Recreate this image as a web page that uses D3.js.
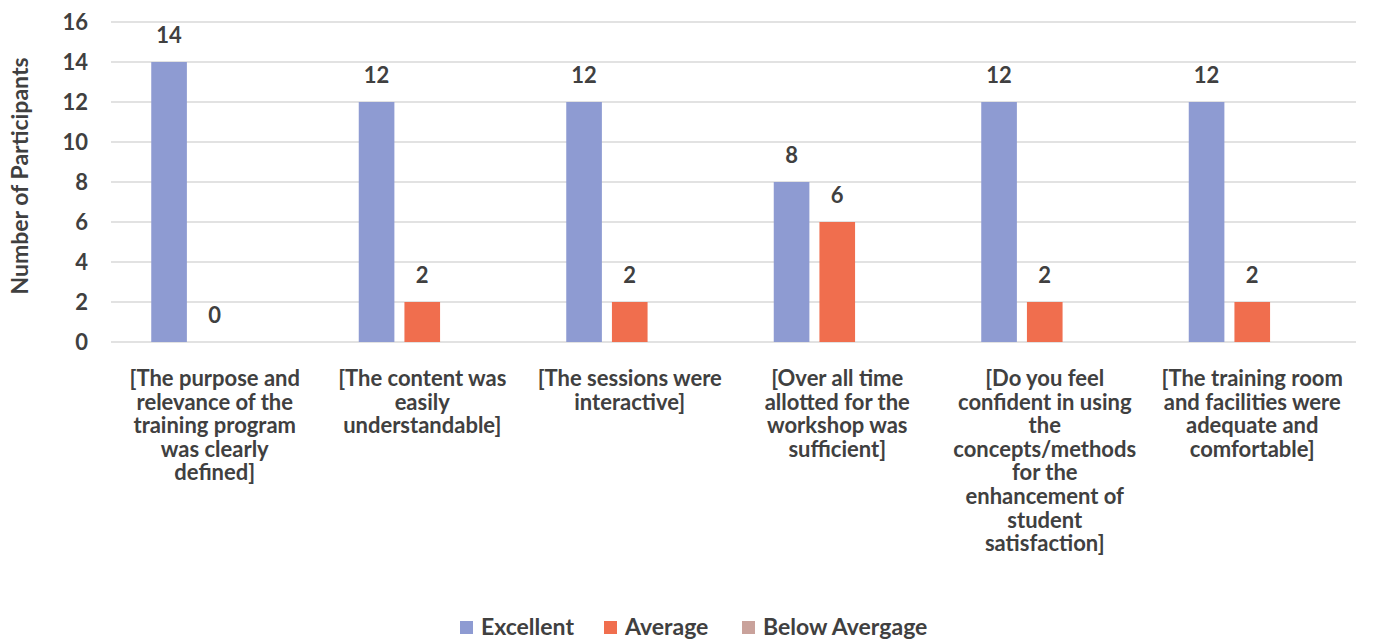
<!DOCTYPE html>
<html><head><meta charset="utf-8">
<script src="https://cdn.jsdelivr.net/npm/d3@7"></script>
<style>body{margin:0;background:#fff}svg{display:block}text{font-family:Lato,"Open Sans",sans-serif;font-weight:700;fill:#404040}</style>
</head><body><svg id="c" width="1374" height="642"></svg>
<script>
const categories = [
  ["[The purpose and","relevance of the","training program","was clearly","defined]"],
  ["[The content was","easily","understandable]"],
  ["[The sessions were","interactive]"],
  ["[Over all time","allotted for the","workshop was","sufficient]"],
  ["[Do you feel","confident in using","the","concepts/methods","for the","enhancement of","student","satisfaction]"],
  ["[The training room","and facilities were","adequate and","comfortable]"]
];
const seriesNames = ["Excellent","Average","Below Avergage"];
const excellent = [14,12,12,8,12,12];
const average = [0,2,2,6,2,2];
const belowAverage = [0,0,0,0,0,0];
const yTicks = [0,2,4,6,8,10,12,14,16];
const colors = ["#8e9bd2","#f06e4e","#c9a29b"];

(function(){
const svg = d3.select("#c");
const pL = 111, pR = 1356, pT = 22, pB = 342;
const fs = "22px";
const x0 = d3.scaleBand().domain(d3.range(categories.length)).range([pL,pR]).paddingInner(0).paddingOuter(0);
const x1 = d3.scaleBand().domain(d3.range(3)).range([0,127]).paddingInner(0.22).paddingOuter(0);
const y = d3.scaleLinear().domain([0,16]).range([pB,pT]);

svg.append("g").selectAll("line").data(yTicks).join("line")
  .attr("x1",pL).attr("x2",pR).attr("y1",d=>y(d)).attr("y2",d=>y(d))
  .attr("stroke","#d9d9d9").attr("stroke-width",1.3);

const yAxis = d3.axisLeft(y).tickValues(yTicks).tickSize(0).tickPadding(0);
const ya = svg.append("g").attr("transform",`translate(${pL-23},0)`).call(yAxis);
ya.select(".domain").remove();
ya.selectAll("text").style("font-size",fs).attr("fill","#404040").style("font-family","Lato,sans-serif").style("font-weight","700").attr("dy","0.36em");

svg.append("text").attr("transform","translate(28,176) rotate(-90)").attr("text-anchor","middle")
  .style("font-size","23px").text("Number of Participants");

const series = [excellent, average, belowAverage];
const groupOff = (x0.bandwidth()-127)/2;
series.forEach((vals,si)=>{
  const g = svg.append("g");
  g.selectAll("rect").data(vals).join("rect")
    .attr("x",(d,i)=>x0(i)+groupOff+x1(si))
    .attr("width",x1.bandwidth())
    .attr("y",d=>y(d)).attr("height",d=>pB-y(d))
    .attr("fill",colors[si]);
  if(si<2){
    g.selectAll("text").data(vals).join("text")
      .attr("x",(d,i)=>x0(i)+groupOff+x1(si)+x1.bandwidth()/2)
      .attr("y",d=>y(d)-19)
      .attr("text-anchor","middle").style("font-size",fs).text(d=>d);
  }
});

categories.forEach((lines,i)=>{
  const t = svg.append("text").attr("text-anchor","middle").style("font-size",fs);
  lines.forEach((ln,j)=>{
    t.append("tspan").attr("x",x0(i)+x0.bandwidth()/2).attr("y",386+j*23.6).text(ln);
  });
});

const legX = [460,604,742];
seriesNames.forEach((n,i)=>{
  svg.append("rect").attr("x",legX[i]).attr("y",621).attr("width",13).attr("height",13).attr("fill",colors[i]);
  svg.append("text").attr("x",legX[i]+21).attr("y",635).style("font-size","23px").text(n);
});
})();
</script></body></html>
